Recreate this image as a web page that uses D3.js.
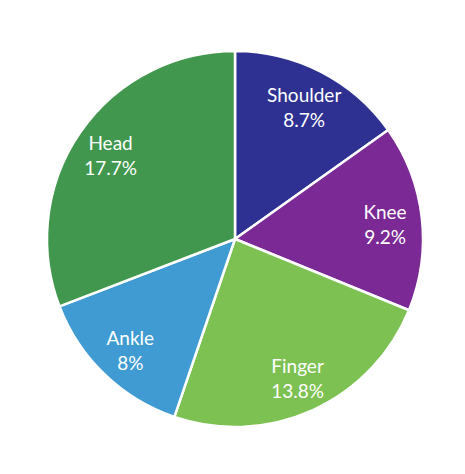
<!DOCTYPE html>
<html>
<head>
<meta charset="utf-8">
<script src="https://cdn.jsdelivr.net/npm/d3@7"></script>
<style>
  body { margin: 0; background: #fff; }
  svg { display: block; }
</style>
</head>
<body>
<div id="chart"></div>
<script>
// injury locations, values shown as the label percentages
var categories = ["Shoulder", "Knee", "Finger", "Ankle", "Head"];
var values = [8.7, 9.2, 13.8, 8, 17.7];
var colors = ["#2e3192", "#7b2995", "#7dc153", "#3f9bd2", "#40974d"];

var width = 465, height = 474;
var cx = 235, cy = 239, radius = 188;

var data = categories.map((c, i) => ({ name: c, value: values[i] }));

var svg = d3.select("#chart")
    .append("svg")
    .attr("width", width)
    .attr("height", height);

var g = svg.append("g")
    .attr("transform", "translate(" + cx + "," + cy + ")");

var pie = d3.pie()
    .value(d => d.value)
    .sort(null);

var arc = d3.arc()
    .innerRadius(0)
    .outerRadius(radius);

// labels sit a bit further out than the default centroid
var labelArc = d3.arc()
    .innerRadius(151)
    .outerRadius(151);

var arcs = pie(data);

g.selectAll("path")
    .data(arcs)
    .enter()
    .append("path")
    .attr("d", arc)
    .attr("fill", (d, i) => colors[i])
    .attr("stroke", "#fff")
    .attr("stroke-width", 2.5)
    .attr("stroke-linejoin", "round");

var labels = g.selectAll("text")
    .data(arcs)
    .enter()
    .append("text")
    .attr("transform", d => "translate(" + labelArc.centroid(d) + ")")
    .attr("text-anchor", "middle")
    .attr("fill", "#fff")
    .style("font-family", "Lato, 'Open Sans', sans-serif")
    .style("font-size", "19px");

labels.append("tspan")
    .attr("x", 0)
    .attr("y", -3)
    .text(d => d.data.name);

labels.append("tspan")
    .attr("x", 0)
    .attr("y", 22)
    .text(d => d.data.value + "%");
</script>
</body>
</html>
